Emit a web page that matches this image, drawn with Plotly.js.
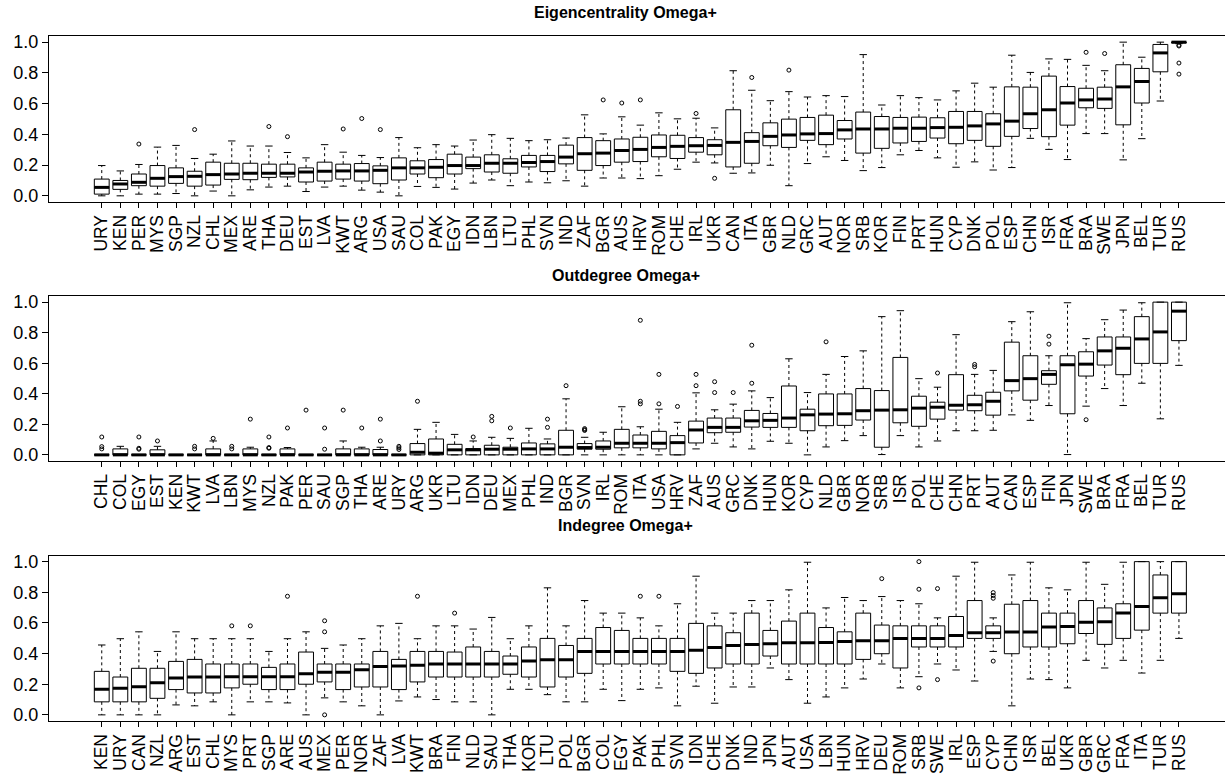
<!DOCTYPE html>
<html>
<head>
<meta charset="utf-8">
<script src="https://cdn.plot.ly/plotly-3.0.1.min.js"></script>
<style>
html,body{margin:0;padding:0;background:#fff;overflow:hidden;}
#chart{width:1225px;height:774px;}
</style>
</head>
<body>
<div id="chart"></div>
<script>
// ---------- Panel 1: Eigencentrality Omega+ ----------
const eigCountries = ["URY","KEN","PER","MYS","SGP","NZL","CHL","MEX","ARE","THA","DEU","EST","LVA","KWT","ARG","USA","SAU","COL","PAK","EGY","IDN","LBN","LTU","PHL","SVN","IND","ZAF","BGR","AUS","HRV","ROM","CHE","IRL","UKR","CAN","ITA","GBR","NLD","GRC","AUT","NOR","SRB","KOR","FIN","PRT","HUN","CYP","DNK","POL","ESP","CHN","ISR","FRA","BRA","SWE","JPN","BEL","TUR","RUS"];
const eigLower = [0,0,0.011,0.011,0.015,0,0.031,0,0.039,0.057,0.063,0.028,0.057,0.063,0.037,0.024,0,0.061,0.055,0.044,0.083,0.103,0.066,0.090,0.085,0.098,0.063,0.116,0.116,0.112,0.131,0.173,0.219,0.214,0.147,0.149,0.199,0.066,0.210,0.254,0.230,0.164,0.184,0.267,0.295,0.247,0.186,0.221,0.168,0.184,0.374,0.302,0.236,0.405,0.405,0.234,0.372,0.617,0.99];
const eigQ1 = [0.011,0.042,0.066,0.063,0.081,0.063,0.070,0.107,0.105,0.120,0.123,0.090,0.096,0.109,0.096,0.079,0.103,0.142,0.118,0.142,0.177,0.155,0.147,0.188,0.158,0.208,0.166,0.197,0.219,0.223,0.254,0.243,0.284,0.267,0.188,0.212,0.326,0.315,0.361,0.333,0.370,0.278,0.309,0.344,0.354,0.376,0.339,0.361,0.322,0.387,0.438,0.385,0.460,0.573,0.569,0.462,0.604,0.807,0.995];
const eigMedian = [0.055,0.077,0.088,0.114,0.125,0.127,0.138,0.142,0.147,0.147,0.147,0.155,0.160,0.162,0.162,0.166,0.182,0.182,0.186,0.197,0.197,0.212,0.212,0.217,0.223,0.252,0.274,0.278,0.295,0.302,0.315,0.322,0.326,0.328,0.348,0.354,0.387,0.396,0.403,0.405,0.429,0.435,0.435,0.440,0.440,0.444,0.446,0.455,0.468,0.486,0.534,0.560,0.604,0.624,0.630,0.709,0.744,0.930,1.0];
const eigQ3 = [0.109,0.100,0.142,0.197,0.182,0.160,0.219,0.212,0.212,0.206,0.206,0.182,0.219,0.206,0.210,0.195,0.247,0.228,0.236,0.271,0.252,0.267,0.241,0.263,0.263,0.330,0.379,0.359,0.370,0.381,0.396,0.394,0.379,0.365,0.560,0.411,0.475,0.499,0.510,0.525,0.490,0.545,0.516,0.510,0.512,0.508,0.549,0.549,0.534,0.709,0.707,0.779,0.711,0.700,0.707,0.853,0.829,0.985,1.0];
const eigUpper = [0.197,0.162,0.204,0.317,0.328,0.243,0.271,0.357,0.324,0.324,0.282,0.247,0.333,0.284,0.263,0.249,0.379,0.313,0.333,0.324,0.363,0.398,0.374,0.359,0.365,0.376,0.527,0.403,0.514,0.460,0.540,0.501,0.505,0.442,0.814,0.687,0.619,0.678,0.643,0.652,0.646,0.919,0.591,0.652,0.639,0.624,0.683,0.733,0.707,0.915,0.803,0.891,0.888,0.849,0.814,1.0,0.902,1.0,1.0];
const eigOutCountry = ["PER","NZL","THA","DEU","KWT","ARG","USA","BGR","AUS","HRV","IRL","UKR","ITA","NLD","BRA","SWE","RUS","RUS","RUS","RUS"];
const eigOutValue = [0.337,0.431,0.451,0.385,0.435,0.503,0.431,0.624,0.604,0.624,0.536,0.114,0.770,0.818,0.934,0.926,0.980,0.975,0.864,0.792];

// ---------- Panel 2: Outdegree Omega+ ----------
const outCountries = ["CHL","COL","EGY","EST","KEN","KWT","LVA","LBN","MYS","NZL","PAK","PER","SAU","SGP","THA","ARE","URY","ARG","UKR","LTU","IDN","DEU","MEX","PHL","IND","BGR","SVN","IRL","ROM","ITA","USA","HRV","ZAF","AUS","GRC","DNK","HUN","KOR","CYP","NLD","GBR","NOR","SRB","ISR","POL","CHE","CHN","PRT","AUT","CAN","ESP","FIN","JPN","SWE","BRA","FRA","BEL","TUR","RUS"];
const outLower = [0,0,0,0,0,0,0,0,0,0,0,0,0,0,0,0,0,0,0,0,0,0,0,0,0,0,0,0,0,0,0,0,0.039,0.076,0.052,0.039,0.089,0.076,0,0.052,0.093,0.126,0.002,0.126,0.052,0.091,0.158,0.158,0.161,0.262,0.226,0.323,0.002,0.319,0.434,0.323,0.469,0.236,0.586];
const outQ1 = [0,0,0,0,0,0,0,0,0,0,0,0,0,0,0,0,0,0,0,0,0,0,0,0,0,0,0.037,0.037,0.046,0.046,0.039,0,0.078,0.145,0.148,0.182,0.180,0.180,0.158,0.191,0.193,0.228,0.050,0.210,0.187,0.234,0.293,0.289,0.260,0.419,0.358,0.462,0.269,0.516,0.588,0.525,0.599,0.599,0.748];
const outMedian = [0,0,0,0,0,0,0,0,0,0,0,0,0,0,0,0,0,0.017,0.011,0.033,0.033,0.037,0.037,0.039,0.039,0.050,0.048,0.050,0.076,0.076,0.076,0.080,0.163,0.180,0.180,0.223,0.226,0.241,0.262,0.267,0.269,0.289,0.293,0.295,0.306,0.312,0.325,0.328,0.351,0.486,0.499,0.527,0.590,0.594,0.681,0.698,0.759,0.805,0.941];
const outQ3 = [0,0.039,0,0.033,0,0,0.039,0,0.039,0,0.039,0,0,0.039,0.039,0.035,0,0.074,0.104,0.069,0.041,0.063,0.050,0.078,0.072,0.161,0.074,0.091,0.167,0.130,0.154,0.126,0.221,0.241,0.241,0.291,0.271,0.451,0.299,0.399,0.399,0.434,0.421,0.638,0.384,0.345,0.525,0.390,0.410,0.738,0.649,0.551,0.649,0.675,0.772,0.772,0.905,1.0,1.0];
const outUpper = [0,0.056,0,0.056,0,0,0.091,0,0.050,0,0.048,0,0,0.091,0.050,0.050,0,0.167,0.213,0.134,0.091,0.115,0.108,0.174,0.104,0.367,0.115,0.148,0.315,0.184,0.299,0.213,0.406,0.295,0.332,0.419,0.375,0.629,0.408,0.527,0.644,0.681,0.905,0.944,0.499,0.443,0.787,0.527,0.553,0.872,0.937,0.649,0.996,0.761,0.885,0.948,0.996,1.0,1.0];
const outOutCountry = ["CHL","CHL","CHL","EGY","EGY","EGY","EST","KWT","KWT","LVA","LBN","LBN","MYS","NZL","NZL","NZL","PAK","PER","SAU","SAU","SGP","THA","ARE","ARE","URY","URY","URY","ARG","IDN","DEU","DEU","MEX","IND","IND","BGR","SVN","SVN","SVN","ITA","ITA","ITA","USA","USA","HRV","ZAF","ZAF","AUS","AUS","GRC","DNK","DNK","NLD","CHE","PRT","PRT","FIN","FIN","SWE"];
const outOutValue = [0.117,0.054,0.039,0.117,0.043,0.037,0.091,0.056,0.039,0.108,0.056,0.039,0.234,0.117,0.048,0.043,0.176,0.293,0.176,0.037,0.293,0.176,0.234,0.091,0.056,0.046,0.035,0.351,0.117,0.252,0.223,0.176,0.234,0.180,0.453,0.172,0.165,0.160,0.881,0.351,0.334,0.527,0.334,0.317,0.527,0.453,0.479,0.408,0.408,0.718,0.469,0.740,0.536,0.592,0.577,0.777,0.725,0.230];

// ---------- Panel 3: Indegree Omega+ ----------
const inCountries = ["KEN","URY","CAN","NZL","ARG","EST","CHL","MYS","PRT","SGP","ARE","AUS","MEX","PER","NOR","ZAF","LVA","KWT","BRA","FIN","NLD","SAU","THA","KOR","LTU","POL","BGR","COL","EGY","PAK","PHL","SVN","IDN","CHE","DNK","IND","JPN","AUT","USA","LBN","HUN","HRV","DEU","ROM","SRB","SWE","IRL","ESP","CYP","CHN","ISR","BEL","UKR","GBR","GRC","FRA","ITA","TUR","RUS"];
const inLower = [0,0,0,0,0.065,0.059,0.085,0,0.085,0.085,0.078,0,0.111,0.085,0.059,0,0.091,0.117,0.100,0.085,0.085,0,0.167,0.167,0.132,0.085,0.085,0.167,0.093,0.167,0.176,0.059,0.187,0.076,0.182,0.182,0.306,0.230,0.076,0.117,0.176,0.234,0.332,0.176,0.249,0.332,0.293,0.221,0.414,0.059,0.234,0.230,0.176,0.356,0.306,0.356,0.273,0.356,0.499];
const inQ1 = [0.085,0.085,0.085,0.108,0.165,0.143,0.143,0.176,0.200,0.165,0.165,0.200,0.215,0.165,0.182,0.182,0.165,0.215,0.247,0.247,0.247,0.247,0.265,0.247,0.182,0.247,0.271,0.332,0.332,0.332,0.332,0.284,0.271,0.306,0.332,0.332,0.384,0.332,0.332,0.332,0.332,0.362,0.399,0.306,0.443,0.443,0.443,0.499,0.499,0.399,0.443,0.443,0.464,0.531,0.460,0.499,0.553,0.664,0.664];
const inMedian = [0.167,0.174,0.184,0.210,0.241,0.247,0.247,0.249,0.249,0.249,0.249,0.269,0.278,0.278,0.295,0.315,0.319,0.323,0.332,0.332,0.332,0.332,0.332,0.351,0.360,0.360,0.414,0.414,0.414,0.414,0.414,0.414,0.421,0.440,0.453,0.460,0.464,0.471,0.471,0.473,0.479,0.484,0.484,0.499,0.499,0.499,0.518,0.536,0.536,0.540,0.540,0.573,0.577,0.605,0.607,0.664,0.707,0.764,0.790];
const inQ3 = [0.284,0.247,0.304,0.304,0.349,0.362,0.332,0.332,0.332,0.310,0.332,0.410,0.332,0.332,0.332,0.414,0.362,0.414,0.414,0.410,0.443,0.414,0.384,0.443,0.499,0.453,0.499,0.570,0.551,0.499,0.499,0.499,0.597,0.581,0.536,0.664,0.551,0.612,0.664,0.570,0.542,0.664,0.586,0.581,0.581,0.581,0.642,0.746,0.581,0.722,0.746,0.664,0.664,0.746,0.698,0.725,1.0,0.913,1.0];
const inUpper = [0.456,0.497,0.542,0.414,0.542,0.497,0.497,0.497,0.497,0.414,0.497,0.542,0.434,0.456,0.497,0.581,0.597,0.497,0.581,0.581,0.560,0.636,0.497,0.581,0.829,0.581,0.746,0.664,0.664,0.633,0.581,0.725,0.905,0.664,0.664,0.746,0.746,0.816,0.996,0.698,0.766,0.746,0.772,0.746,0.725,0.633,0.905,0.996,0.633,0.913,0.996,0.829,0.816,0.996,0.852,0.996,1.0,1.0,1.0];
const inOutCountry = ["MYS","PRT","ARE","MEX","MEX","MEX","KWT","FIN","PAK","PHL","DEU","SRB","SRB","SRB","SWE","SWE","CYP","CYP","CYP","CYP"];
const inOutValue = [0.581,0.581,0.774,0.614,0.542,0,0.774,0.664,0.774,0.774,0.889,1.0,0.820,0.176,0.824,0.230,0.798,0.779,0.761,0.351];

const panels = [
  {title:"Eigencentrality Omega+", cats:eigCountries, lo:eigLower, q1:eigQ1, med:eigMedian, q3:eigQ3, hi:eigUpper, oc:eigOutCountry, ov:eigOutValue},
  {title:"Outdegree Omega+", cats:outCountries, lo:outLower, q1:outQ1, med:outMedian, q3:outQ3, hi:outUpper, oc:outOutCountry, ov:outOutValue},
  {title:"Indegree Omega+", cats:inCountries, lo:inLower, q1:inQ1, med:inMedian, q3:inQ3, hi:inUpper, oc:inOutCountry, ov:inOutValue}
];

const BOXW = 0.8, CAPW = 0.4;
const FONT = "Liberation Sans, Arial, Helvetica, sans-serif";
const traces = [];
const layout = {
  width:1225, height:774,
  margin:{l:49, r:0, t:36, b:53},
  paper_bgcolor:"#fff", plot_bgcolor:"#fff",
  showlegend:false,
  font:{family:FONT, color:"#000"},
  annotations:[]
};
const domains = [[0.7577,1],[0.3796,0.6204],[0,0.2416]];
const titleY = [1.035, 0.651, 0.2847];

panels.forEach((p, k) => {
  const xa = k===0 ? "x" : "x"+(k+1);
  const ya = k===0 ? "y" : "y"+(k+1);
  const pos = p.cats.map((c,i)=>i+1);
  traces.push({
    type:"box", xaxis:xa, yaxis:ya, x:pos,
    q1:p.q1, median:p.med, q3:p.q3, lowerfence:p.q1, upperfence:p.q3,
    width:BOXW, whiskerwidth:0, boxpoints:false,
    fillcolor:"#ffffff", line:{color:"#000", width:1}, hoverinfo:"skip"
  });
  const wx=[], wy=[], cx=[], cy=[], mx=[], my=[];
  pos.forEach((x,i)=>{
    wx.push(x,x,null,x,x,null);
    wy.push(p.q3[i],p.hi[i],null,p.q1[i],p.lo[i],null);
    cx.push(x-CAPW/2,x+CAPW/2,null,x-CAPW/2,x+CAPW/2,null);
    cy.push(p.hi[i],p.hi[i],null,p.lo[i],p.lo[i],null);
    mx.push(x-BOXW/2,x+BOXW/2,null);
    my.push(p.med[i],p.med[i],null);
  });
  traces.push({type:"scatter", mode:"lines", xaxis:xa, yaxis:ya, x:wx, y:wy,
    line:{color:"#000", width:1, dash:"3px,3px"}, hoverinfo:"skip"});
  traces.push({type:"scatter", mode:"lines", xaxis:xa, yaxis:ya, x:cx, y:cy,
    line:{color:"#000", width:1}, hoverinfo:"skip"});
  traces.push({type:"scatter", mode:"lines", xaxis:xa, yaxis:ya, x:mx, y:my,
    line:{color:"#000", width:3}, hoverinfo:"skip"});
  traces.push({type:"scatter", mode:"markers", xaxis:xa, yaxis:ya,
    x:p.oc.map(c=>p.cats.indexOf(c)+1), y:p.ov,
    marker:{symbol:"circle-open", size:4, color:"#000", line:{width:1, color:"#000"}}, hoverinfo:"skip"});

  const xname = k===0 ? "xaxis" : "xaxis"+(k+1);
  const yname = k===0 ? "yaxis" : "yaxis"+(k+1);
  layout[xname] = {
    domain:[0,1], anchor:ya, range:[-1.84, 61.48],
    tickmode:"array", tickvals:pos, ticktext:p.cats, tickangle:-90,
    ticks:"outside", ticklen:5, tickcolor:"#000", tickwidth:1,
    showline:true, mirror:true, linecolor:"#000", linewidth:1,
    showgrid:false, zeroline:false,
    tickfont:{family:FONT, size:17.5, color:"#000"}
  };
  layout[yname] = {
    domain:domains[k], anchor:xa, range:[-0.04, 1.04],
    tickmode:"array", tickvals:[0,0.2,0.4,0.6,0.8,1.0], ticktext:["0.0","0.2","0.4","0.6","0.8","1.0"],
    ticks:"outside", ticklen:6, tickcolor:"#000", tickwidth:1,
    showline:true, linecolor:"#000", linewidth:1,
    showgrid:false, zeroline:false,
    tickfont:{family:FONT, size:18, color:"#000"}
  };
  layout.annotations.push({
    text:"<b>"+p.title+"</b>", xref:"paper", yref:"paper", x:0.4906, y:titleY[k],
    xanchor:"center", yanchor:"middle", showarrow:false,
    font:{family:FONT, size:16, color:"#000"}
  });
});

Plotly.newPlot("chart", traces, layout, {displayModeBar:false, staticPlot:true});
</script>
</body>
</html>
